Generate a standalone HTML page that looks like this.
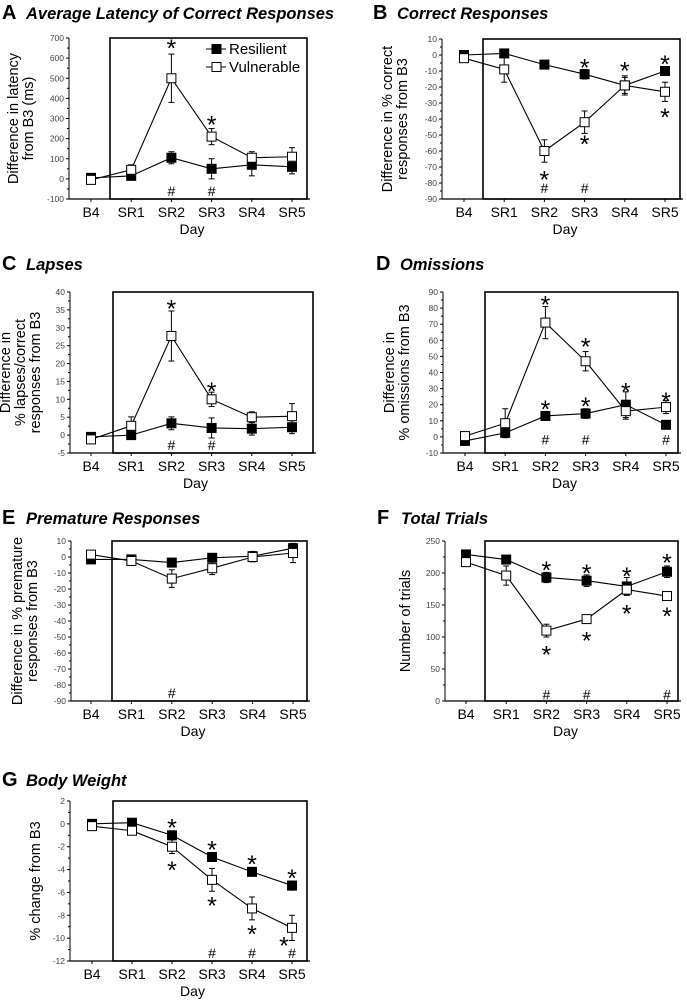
<!DOCTYPE html>
<html><head><meta charset="utf-8">
<style>
html,body{margin:0;padding:0;background:#fff;}
svg{display:block;font-family:"Liberation Sans",Arial,sans-serif;}
.tick{font-size:8.5px;fill:#444;}
.cat{font-size:14px;fill:#000;}
.axl{font-size:14.5px;fill:#000;}
.ttl{font-size:16.5px;font-weight:bold;font-style:italic;}
.let{font-size:20px;font-weight:bold;}
</style></head><body>
<svg id="fig" width="687" height="1002" viewBox="0 0 687 1002"></svg>
<script>
const categories=["B4","SR1","SR2","SR3","SR4","SR5"];
// A latency
const aRes=[5,15,105,50,70,60], aResErr=[12,10,30,50,55,35];
const aVul=[-5,45,500,210,105,110], aVulErr=[10,25,120,40,30,45];
// B correct
const bRes=[0,1,-6,-12,-19,-10], bResErr=[1,2,1,3,5,2];
const bVul=[-2,-9,-60,-42,-19,-23], bVulErr=[2,8,7,7,6,6];
// C lapses
const cRes=[-0.5,0,3.3,2,1.8,2.2], cResErr=[0.5,0.5,1.8,2.8,1.8,1.8];
const cVul=[-1.2,2.6,27.7,10,5,5.3], cVulErr=[0.5,2.5,7,2,1.5,3.5];
// D omissions
const dRes=[-2.5,2.5,13,14.5,20,7.5], dResErr=[1,2,1.5,3,8,2.5];
const dVul=[0.5,8.5,71,47,16,18.5], dVulErr=[1,9,10,6,5,4];
// E premature
const eRes=[-1.5,-1.5,-3.5,-0.5,0.5,5.5], eResErr=[1,1,1,2,3,2];
const eVul=[1.5,-2.5,-13.5,-7,0,2.5], eVulErr=[1,1,5.5,4,3,6];
// F total trials
const fRes=[229,221,193,188,179,202], fResErr=[5,5,8,9,14,9];
const fVul=[217,196,110,128,174,164], fVulErr=[5,15,10,6,8,4];
// G body weight
const gRes=[0,0.1,-1,-2.9,-4.2,-5.4], gResErr=[0.1,0.1,0.3,0.3,0.3,0.4];
const gVul=[-0.2,-0.6,-2,-4.9,-7.4,-9.1], gVulErr=[0.1,0.1,0.6,1,1,1.1];
// significance markers: [category index, value]
const aStars=[[2,680],[3,300]], aHash=[[2,-60],[3,-60]];
const bStars=[[2,-74],[3,-4],[3,-52],[4,-6],[5,-2],[5,-35]], bHash=[[2,-83],[3,-83]];
const cStars=[[2,37],[3,14]], cHash=[[2,-2.8],[3,-2.8]];
const dStars=[[2,86],[2,21],[3,60],[3,23],[4,32],[5,26]], dHash=[[2,-1.5],[3,-1.5],[5,-1.5]];
const eStars=[], eHash=[[2,-85]];
const fStars=[[2,214],[2,82],[3,209],[3,104],[4,205],[4,146],[5,226],[5,142]], fHash=[[2,10],[3,10],[5,10]];
const gStars=[[2,0.2],[2,-3.5],[3,-1.7],[3,-6.6],[4,-3],[4,-9.1],[5,-4.2],[5,-10.1]], gHash=[[3,-11.3],[4,-11.3],[5,-11.3]];

const svg=document.getElementById('fig');
const NS='http://www.w3.org/2000/svg';
function mk(tag,attrs,parent,txt){const e=document.createElementNS(NS,tag);for(const k in attrs)e.setAttribute(k,attrs[k]);if(txt!==undefined)e.textContent=txt;(parent||svg).appendChild(e);return e;}

function panel(p){
  const g=mk('g',{});
  
  
  const y=v=>p.yB+(v-p.vmin)/(p.vmax-p.vmin)*(p.yT-p.yB);
  const x=i=>p.x0+i*p.dx;
  const lt=mk('text',{x:p.lx,y:p.ty,class:'let'},g,p.letter);
  
  
  const tt=mk('text',{x:p.lx+24,y:p.ty,class:'ttl'},g,p.title);
  
  
  const bx=mk('rect',{x:p.bL,y:p.yT,width:p.bR-p.bL,height:p.yB-p.yT,fill:'none',stroke:'#000','stroke-width':1.6},g);
  
  
  const ya=mk('line',{x1:p.ax,y1:p.yT,x2:p.ax,y2:p.yB,stroke:'#000','stroke-width':1},g);
  
  
  const xa=mk('line',{x1:p.ax,y1:p.yB,x2:p.bR+3,y2:p.yB,stroke:'#000','stroke-width':1.3},g);
  
  
  for(let v=p.vmin;v<=p.vmax+1e-9;v+=p.step){
    const yy=y(v);
    mk('line',{x1:p.ax-3,y1:yy,x2:p.ax,y2:yy,stroke:'#000'},g);
    const tl=mk('text',{x:p.ax-5,y:yy+3,class:'tick','text-anchor':'end'},g,String(Math.round(v*10)/10));
    
    
    if(v+p.step<=p.vmax+1e-9){const m=y(v+p.step/2);mk('line',{x1:p.ax-2,y1:m,x2:p.ax,y2:m,stroke:'#000'},g);}
  }
  categories.forEach((c,i)=>{
    mk('line',{x1:x(i),y1:p.yB,x2:x(i),y2:p.yB+3,stroke:'#000'},g);
    const cl=mk('text',{x:x(i),y:p.yB+18,class:'cat','text-anchor':'middle'},g,c);
    
    
  });
  const dl=mk('text',{x:(p.ax+p.bR)/2+4,y:p.yB+35,class:'cat','text-anchor':'middle'},g,'Day');
  
  
  const cy=(p.yT+p.yB)/2;
  p.ylab.forEach((t,k)=>{
    const lx=p.ylx+k*15;
    const yl=mk('text',{x:lx,y:cy,class:'axl','text-anchor':'middle',transform:`rotate(-90 ${lx} ${cy})`},g,t);
    
    
  });
  [[p.res,p.resE,'#000','resilient'],[p.vul,p.vulE,'#fff','vulnerable']].forEach(([d,e,fill,nm])=>{
    const pts=d.map((v,i)=>x(i)+','+y(v)).join(' ');
    const ln=mk('polyline',{points:pts,fill:'none',stroke:'#000','stroke-width':1.1},g);
    
    
    d.forEach((v,i)=>{
      const y1=y(v+e[i]),y2=y(v-e[i]);
      mk('line',{x1:x(i),y1:y1,x2:x(i),y2:y2,stroke:'#000'},g);
      mk('line',{x1:x(i)-3,y1:y1,x2:x(i)+3,y2:y1,stroke:'#000'},g);
      mk('line',{x1:x(i)-3,y1:y2,x2:x(i)+3,y2:y2,stroke:'#000'},g);
      const r=mk('rect',{x:x(i)-4.5,y:y(v)-4.5,width:9,height:9,fill:fill,stroke:'#000','stroke-width':1},g);
      
      
    });
  });
  p.stars.forEach(([i,v])=>{
    const off=(p.letter==='G'&&i===5&&v<-9.5)?-8:0;
    const s=mk('text',{x:x(i)+off,y:y(v)+15,'font-size':'25px','text-anchor':'middle'},g,'*');
    
    
  });
  p.hash.forEach(([i,v])=>{
    const h=mk('text',{x:x(i),y:y(v)+5,'font-size':'14px','text-anchor':'middle'},g,'#');
    
    
  });
  return g;
}

panel({name:'panel-a-latency',letter:'A',title:'Average Latency of Correct Responses',lx:2,ty:19,ax:69,bL:110,bR:307,yT:38,yB:199,vmin:-100,vmax:700,step:100,x0:91,dx:40.2,res:aRes,resE:aResErr,vul:aVul,vulE:aVulErr,stars:aStars,hash:aHash,ylab:['Difference in latency','from B3 (ms)'],ylx:18});
panel({name:'panel-b-correct',letter:'B',title:'Correct Responses',lx:373,ty:19,ax:442,bL:483,bR:680,yT:39,yB:199,vmin:-90,vmax:10,step:10,x0:464,dx:40.2,res:bRes,resE:bResErr,vul:bVul,vulE:bVulErr,stars:bStars,hash:bHash,ylab:['Difference in % correct','responses from B3'],ylx:392});
panel({name:'panel-c-lapses',letter:'C',title:'Lapses',lx:2,ty:270,ax:70,bL:113,bR:313,yT:292,yB:453,vmin:-5,vmax:40,step:5,x0:91,dx:40.2,res:cRes,resE:cResErr,vul:cVul,vulE:cVulErr,stars:cStars,hash:cHash,ylab:['Difference in','% lapses/correct','responses  from B3'],ylx:10});
panel({name:'panel-d-omissions',letter:'D',title:'Omissions',lx:376,ty:270,ax:443,bL:485,bR:678,yT:292,yB:453,vmin:-10,vmax:90,step:10,x0:465,dx:40.2,res:dRes,resE:dResErr,vul:dVul,vulE:dVulErr,stars:dStars,hash:dHash,ylab:['Difference in','% omissions from B3'],ylx:394});
panel({name:'panel-e-premature',letter:'E',title:'Premature Responses',lx:2,ty:524,ax:71,bL:112,bR:307,yT:541,yB:701,vmin:-90,vmax:10,step:10,x0:91,dx:40.4,res:eRes,resE:eResErr,vul:eVul,vulE:eVulErr,stars:eStars,hash:eHash,ylab:['Difference in % premature','responses from B3'],ylx:22});
panel({name:'panel-f-trials',letter:'F',title:'Total Trials',lx:377,ty:524,ax:445,bL:485,bR:678,yT:541,yB:701,vmin:0,vmax:250,step:50,x0:466,dx:40.2,res:fRes,resE:fResErr,vul:fVul,vulE:fVulErr,stars:fStars,hash:fHash,ylab:['Number of trials'],ylx:410});
panel({name:'panel-g-weight',letter:'G',title:'Body Weight',lx:2,ty:786,ax:70,bL:113,bR:307,yT:801,yB:961,vmin:-12,vmax:2,step:2,x0:92,dx:40,res:gRes,resE:gResErr,vul:gVul,vulE:gVulErr,stars:gStars,hash:gHash,ylab:['% change from B3'],ylx:40});

const lg=mk('g',{});


[['Resilient','#000',49],['Vulnerable','#fff',67]].forEach(([t,f,yy])=>{
  mk('line',{x1:206,y1:yy,x2:226,y2:yy,stroke:'#000'},lg);
  mk('rect',{x:212,y:yy-4.5,width:9,height:9,fill:f,stroke:'#000'},lg);
  const le=mk('text',{x:229,y:yy+5,'font-size':'15px'},lg,t);
  
  
});
</script>
</body></html>
